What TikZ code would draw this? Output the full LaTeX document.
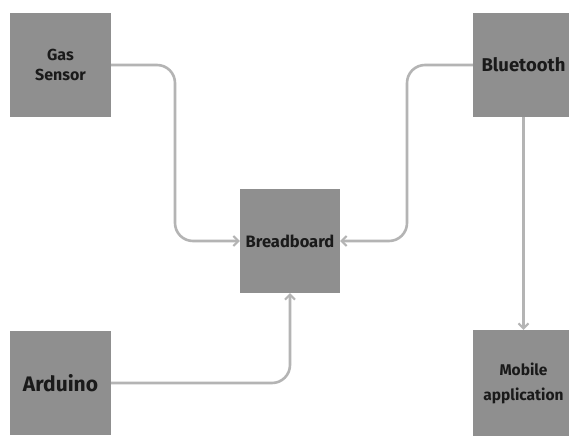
\documentclass[tikz,border=0pt]{standalone}
\usepackage{fontspec}
\setmainfont{Fira Sans}
\usetikzlibrary{arrows.meta}
\definecolor{boxgray}{HTML}{8F8F8F}
\definecolor{linegray}{HTML}{B4B4B4}
\definecolor{txt}{HTML}{1A1A1A}
\tikzset{
  blk/.style={fill=boxgray, draw=none, minimum width=101pt, minimum height=104pt, inner sep=0pt, align=center, text=txt, font=\bfseries#1},
  blk/.default={\fontsize{16}{20}\selectfont},
  conn/.style={draw=linegray, line width=2.6pt, rounded corners=18pt, -{Straight Barb[length=5pt,width=10pt,line width=2pt]}},
}
\begin{document}
\begin{tikzpicture}[x=1pt,y=-1pt]
\clip (0,0) rectangle (569,436);
\fill[white] (0,0) rectangle (569,436);
\node[blk] (gas) at (60.5,65) {Gas\\Sensor};
\node[blk={\fontsize{18.5}{20}\selectfont}] (bt) at (523.5,65) {Bluetooth};
\node[blk={\fontsize{16.5}{18}\selectfont}, minimum width=100pt] (bread) at (290,241) {Breadboard};
\node[blk={\fontsize{21}{24}\selectfont}] (ard) at (60.5,383) {Arduino};
\node[blk={\fontsize{15.5}{25}\selectfont}, minimum height=106pt] (mob) at (523.5,383) {Mobile\\application};
\coordinate (j1) at (175,150);
\coordinate (j2) at (407,150);
\draw[conn] (gas.east) -| (j1) |- (bread.west);
\draw[conn] (bt.west) -| (j2) |- (bread.east);
\draw[conn] (ard.east) -| (bread.south);
\draw[conn] (bt.south) -- (mob.north);
\end{tikzpicture}
\end{document}
